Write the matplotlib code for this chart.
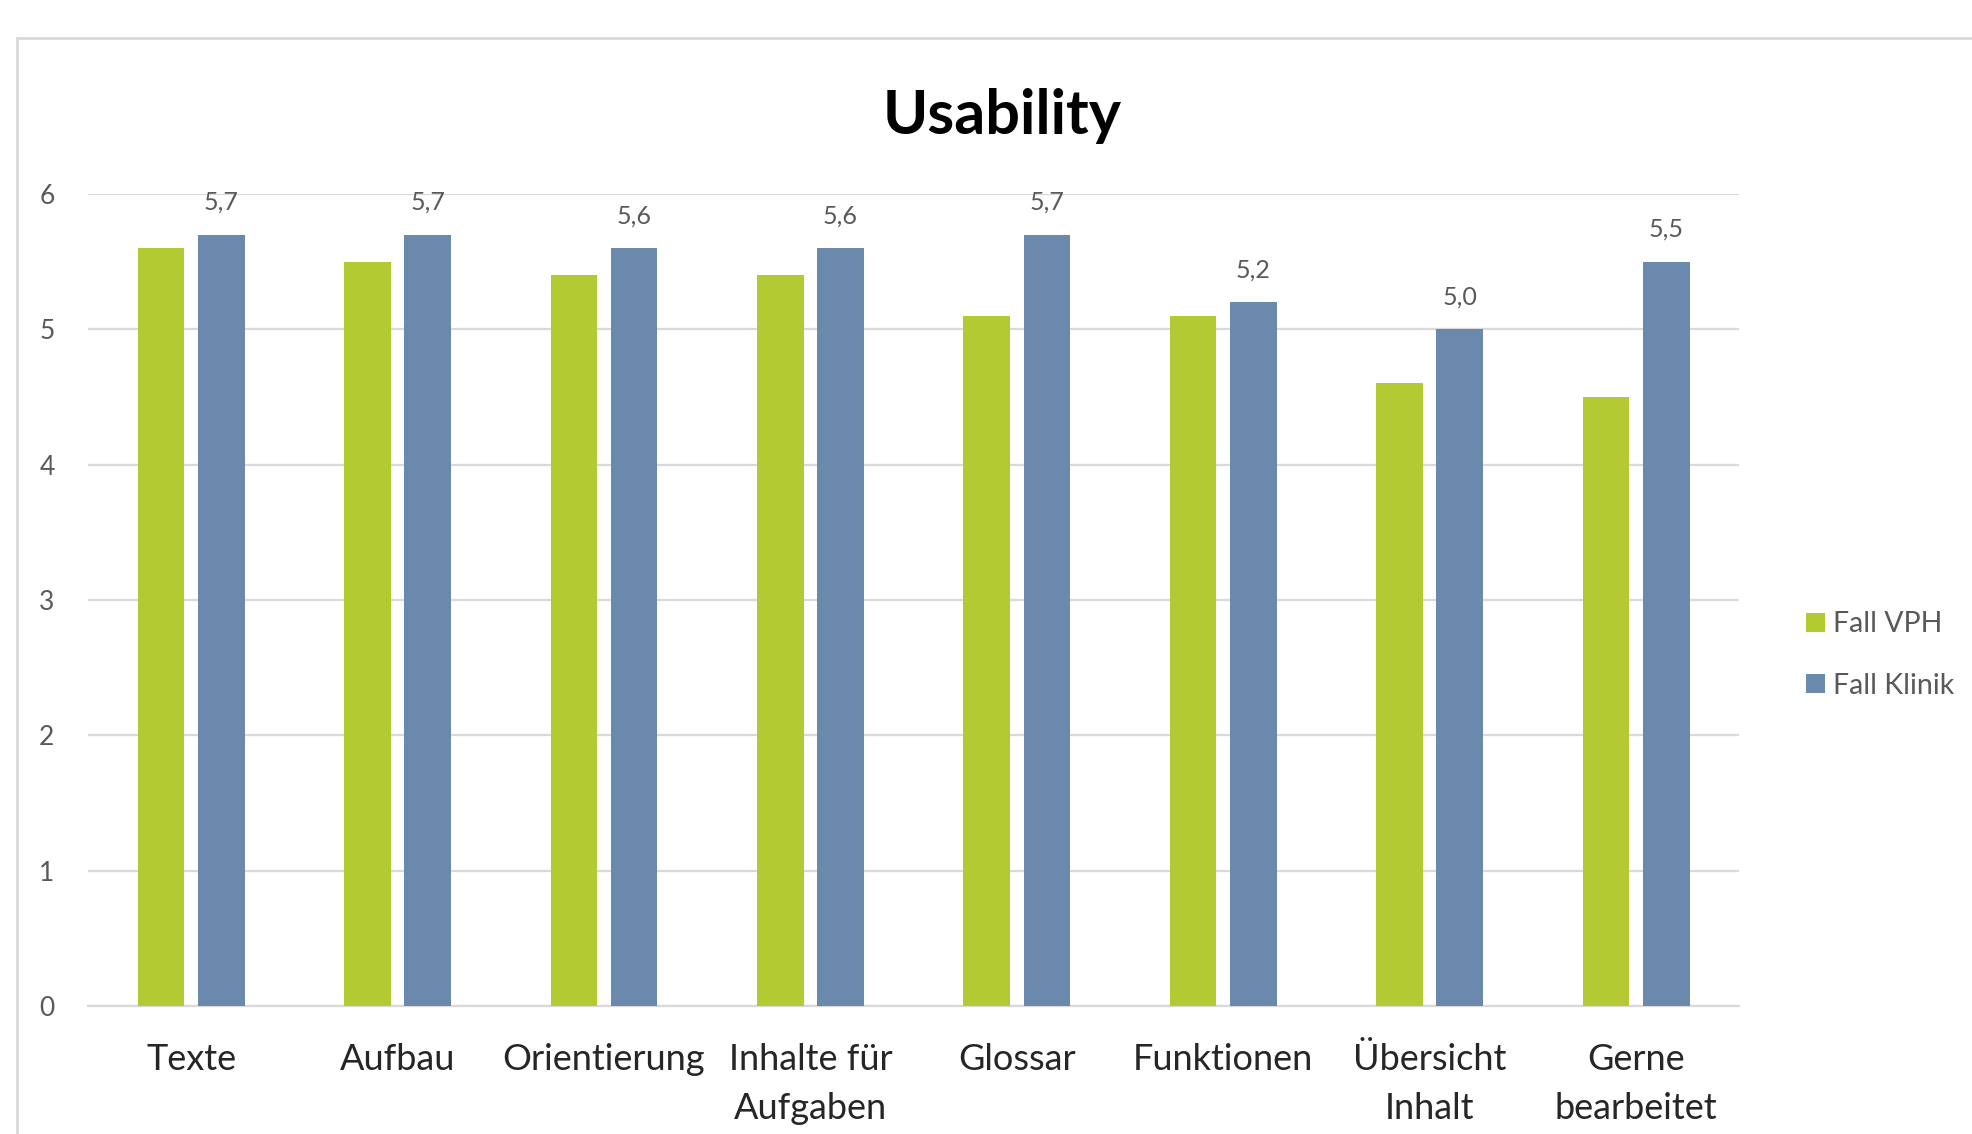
import numpy as np
import matplotlib.pyplot as plt
from matplotlib.patches import Rectangle

# Usability-Bewertung: zwei Fälle im Vergleich
kategorien = ["Texte", "Aufbau", "Orientierung", "Inhalte für\nAufgaben",
              "Glossar", "Funktionen", "Übersicht\nInhalt", "Gerne\nbearbeitet"]
fall_vph = [5.6, 5.5, 5.4, 5.4, 5.1, 5.1, 4.6, 4.5]
fall_klinik = [5.7, 5.7, 5.6, 5.6, 5.7, 5.2, 5.0, 5.5]
y_ticks = [0, 1, 2, 3, 4, 5, 6]

gruen = "#b3ca33"
blau = "#6a89ad"
grau_text = "#595959"
grau_linie = "#d9d9d9"

plt.rcParams['font.family'] = ['Lato', 'DejaVu Sans']

fig = plt.figure(figsize=(19.72, 11.34), dpi=100)
ax = fig.add_axes([0.0446, 0.113, 0.8374, 0.716])

x = np.arange(len(kategorien))
breite = 0.226
abstand = 0.146

ax.bar(x - abstand, fall_vph, breite, color=gruen, label="Fall VPH", zorder=3)
staebe = ax.bar(x + abstand, fall_klinik, breite, color=blau, label="Fall Klinik", zorder=3)

# Werte über den blauen Balken, mit Komma als Dezimalzeichen
for s, wert in zip(staebe, fall_klinik):
    ax.annotate(f"{wert:.1f}".replace(".", ","),
                (s.get_x() + s.get_width() / 2, wert),
                xytext=(0, 15), textcoords="offset points",
                ha="center", va="bottom", fontsize=18, color=grau_text,
                clip_on=False)

ax.set_xlim(-0.5, len(kategorien) - 0.5)
ax.set_ylim(0, 6)
ax.set_yticks(y_ticks)
ax.set_yticklabels([str(t) for t in y_ticks])
ax.set_xticks(x)
ax.set_xticklabels(kategorien, fontsize=26, color="#262626", linespacing=1.58)

ax.tick_params(axis="x", length=0, pad=27)
ax.tick_params(axis="y", length=0, pad=24, labelsize=19, labelcolor=grau_text)
ax.grid(axis="y", color=grau_linie, linewidth=1.6, zorder=0)
for seite in ["top", "right", "left"]:
    ax.spines[seite].set_visible(False)
ax.spines["bottom"].set_color(grau_linie)
ax.spines["bottom"].set_linewidth(1.6)

fig.text(0.508, 0.898, "Usability", ha="center", va="center",
         fontsize=44, fontweight="bold", color="black")

ax.legend(loc="center left", bbox_to_anchor=(1.025, 0.432), frameon=False,
          fontsize=20.5, labelcolor=grau_text, handlelength=0.65, handleheight=0.65,
          handletextpad=0.3, labelspacing=1.25)

# grauer Rahmen um den Diagrammbereich (rechts und unten abgeschnitten)
rahmen = Rectangle((17 / 1972, -0.1), 1.2, 1 - 38 / 1134 + 0.1,
                   transform=fig.transFigure, fill=False,
                   edgecolor=grau_linie, linewidth=2)
fig.patches.append(rahmen)

fig.savefig("out.png", dpi=100)
